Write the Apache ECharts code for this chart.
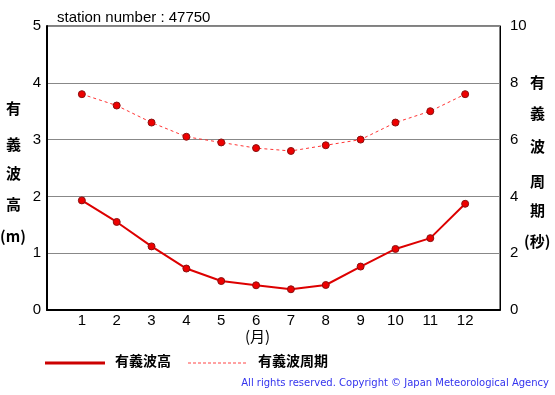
<!DOCTYPE html>
<html>
<head>
<meta charset="utf-8">
<script src="https://cdn.jsdelivr.net/npm/echarts@6/dist/echarts.min.js"></script>
<style>html,body{margin:0;padding:0;background:#fff}#c{width:555px;height:395px}</style>
</head>
<body>
<div id="c"></div>
<script>
var months = [1,2,3,4,5,6,7,8,9,10,11,12];
var waveHeight = [1.93,1.55,1.12,0.73,0.51,0.435,0.365,0.44,0.765,1.075,1.265,1.87];
var wavePeriod = [7.6,7.2,6.6,6.1,5.9,5.7,5.6,5.8,6.0,6.6,7.0,7.6];
var leftTitle = ['有','義','波','高','(m)'];
var rightTitle = ['有','義','波','周','期','(秒)'];
var stationTitle = 'station number : 47750';
var legendNames = ['有義波高','有義波周期'];
var copyright = 'All rights reserved. Copyright © Japan Meteorological Agency';

var chart = echarts.init(document.getElementById('c'), null, {renderer:'canvas'});
var font = 'Liberation Sans, Arial, sans-serif';
var jp = 'Noto Sans CJK JP, sans-serif';
var graphics = [];
var ly = [110,146,175,206,238];
leftTitle.forEach(function(t,i){
  graphics.push({type:'text', left: i===4?0:6, top: ly[i]-9, style:{text:t, font:'bold 15px '+jp, fill:'#000'}});
});
var ry = [84,115,148,183,212,243];
rightTitle.forEach(function(t,i){
  graphics.push({type:'text', left: i===5?524:530, top: ry[i]-9, style:{text:t, font:'bold 15px '+jp, fill:'#000'}});
});
graphics.push({type:'text', left:245, top:329, style:{text:'(月)', font:'15px '+jp, fill:'#000'}});
graphics.push({type:'line', shape:{x1:45,y1:363,x2:105,y2:363}, style:{stroke:'#cc0000', lineWidth:3}});
graphics.push({type:'text', left:115, top:354, style:{text:legendNames[0], font:'bold 14px '+jp, fill:'#000'}});
graphics.push({type:'line', shape:{x1:188,y1:363,x2:246,y2:363}, style:{stroke:'#ff4444', lineWidth:1, lineDash:[3,2]}});
graphics.push({type:'text', left:258, top:354, style:{text:legendNames[1], font:'bold 14px '+jp, fill:'#000'}});
graphics.push({type:'text', right:6, top:378, style:{text:copyright, font:'10px DejaVu Sans, sans-serif', fill:'#3333ee'}});

chart.setOption({
  animation:false,
  title:{text:stationTitle, left:52, top:5, textStyle:{fontFamily:font, fontSize:15, fontWeight:'normal', color:'#000'}},
  grid:{left:47, right:55, top:26, bottom:85, show:true, borderColor:'#000', borderWidth:1, backgroundColor:'transparent'},
  xAxis:{type:'value', min:0, max:13, interval:1,
    axisLine:{show:true, lineStyle:{color:'#000', width:2}}, axisTick:{show:false}, splitLine:{show:false},
    axisLabel:{fontFamily:font, fontSize:15, color:'#000', margin:3, formatter:function(v){return (v>=1&&v<=12)?String(v):'';}}},
  yAxis:[
    {type:'value', min:0, max:5, interval:1, position:'left',
     axisLine:{show:true, lineStyle:{color:'#000', width:2}}, axisTick:{show:false},
     splitLine:{show:true, lineStyle:{color:'#888', width:1}},
     axisLabel:{fontFamily:font, fontSize:15, color:'#000', margin:6}},
    {type:'value', min:0, max:10, interval:2, position:'right',
     axisLine:{show:true, lineStyle:{color:'#000', width:1}}, axisTick:{show:false}, splitLine:{show:false},
     axisLabel:{fontFamily:font, fontSize:15, color:'#000', margin:10}}
  ],
  series:[
    {name:legendNames[0], type:'line', yAxisIndex:0, data:months.map(function(m,i){return [m,waveHeight[i]];}),
     symbol:'circle', symbolSize:7, lineStyle:{color:'#dd0000', width:2},
     itemStyle:{color:'#ee0000', borderColor:'#881111', borderWidth:1}},
    {name:legendNames[1], type:'line', yAxisIndex:1, data:months.map(function(m,i){return [m,wavePeriod[i]];}),
     symbol:'circle', symbolSize:7, lineStyle:{color:'#ff3333', width:1, type:[3,3]},
     itemStyle:{color:'#ee0000', borderColor:'#881111', borderWidth:1}}
  ],
  graphic:graphics
});
</script>
</body>
</html>
